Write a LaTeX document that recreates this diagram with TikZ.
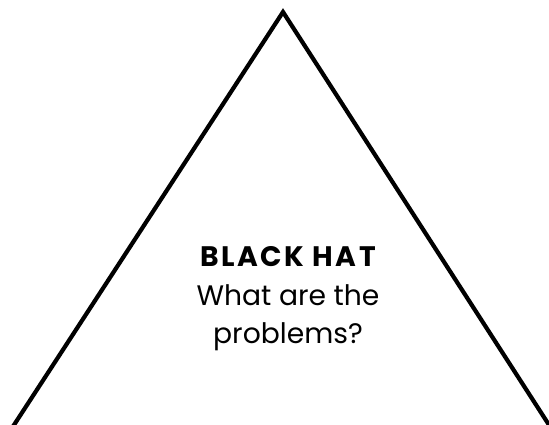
\documentclass[tikz,border=0pt]{standalone}
\usepackage{fontspec}
\setmainfont{Poppins}
\begin{document}
\begin{tikzpicture}[x=1pt,y=-1pt,
  edge/.style={line width=4.2pt,line join=miter},
  label/.style={align=center,font=\fontsize{28.2}{38.5}\selectfont,text=black}]
\useasboundingbox (0,0) rectangle (549,425);
\clip (0,0) rectangle (549,425);
\coordinate (apex) at (283,12);
\coordinate (bl) at (4.2,440);
\coordinate (br) at (558.7,440);
\draw[edge] (bl) -- (apex) -- (br);
\node[label] (t) at (288,299) {{\bfseries\addfontfeatures{LetterSpace=9}BLACK HAT}\\What are the\\problems?};
\end{tikzpicture}
\end{document}
